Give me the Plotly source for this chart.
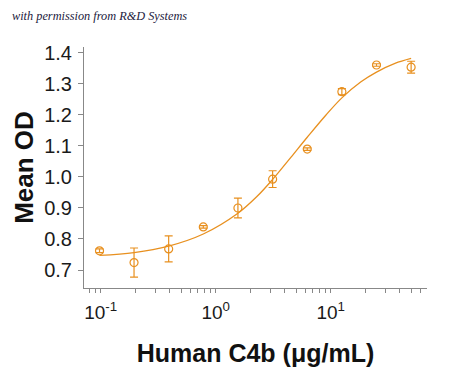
import plotly.graph_objects as go

# Measured points
conc = [0.0977, 0.195, 0.39, 0.78, 1.56, 3.125, 6.25, 12.5, 25, 50]
mean_od = [0.762, 0.724, 0.768, 0.839, 0.900, 0.993, 1.090, 1.275, 1.361, 1.354]
err = [0.006, 0.047, 0.042, 0.004, 0.032, 0.027, 0.004, 0.010, 0.004, 0.019]

# Fitted curve
fit_conc = [0.0977, 0.195, 0.39, 0.78, 1.56, 2.27, 3.125, 4.52, 6.25, 9.06, 12.5, 18.2, 25, 36.2, 50]
fit_od = [0.747, 0.756, 0.777, 0.816, 0.883, 0.936, 0.992, 1.064, 1.128, 1.199, 1.255, 1.306, 1.338, 1.366, 1.382]

y_ticks = [0.7, 0.8, 0.9, 1.0, 1.1, 1.2, 1.3, 1.4]
y_ticktext = ["0.7", "0.8", "0.9", "1.0", "1.1", "1.2", "1.3", "1.4"]

decades = [0.01, 0.1, 1, 10]
x_tickvals = []
x_ticktext = []
for d in decades:
    for m in range(1, 10):
        x_tickvals.append(d * m)
        if m == 1 and d in (0.1, 1, 10):
            exp = {0.1: "-1", 1: "0", 10: "1"}[d]
            x_ticktext.append("10<sup>" + exp + "</sup>")
        else:
            x_ticktext.append("")

orange = "#E8901F"

fig = go.Figure()
fig.add_trace(go.Scatter(
    x=fit_conc, y=fit_od, mode="lines",
    line=dict(color=orange, width=1.3, shape="spline", smoothing=1.0),
    showlegend=False, hoverinfo="skip"))
fig.add_trace(go.Scatter(
    x=conc, y=mean_od, mode="markers",
    marker=dict(symbol="circle-open", size=8, color=orange, line=dict(width=1.2, color=orange)),
    error_y=dict(type="data", array=err, visible=True, color=orange, thickness=1.2, width=4),
    showlegend=False))

fig.update_layout(
    width=450, height=370,
    margin=dict(l=76, r=31, t=39, b=90, autoexpand=False),
    paper_bgcolor="white", plot_bgcolor="white",
    font=dict(family="Liberation Sans, Arial, sans-serif", color="#1a1a1a"),
    annotations=[dict(
        text="<i>with permission from R&amp;D Systems</i>",
        xref="paper", yref="paper", x=-0.216, y=1.129, xanchor="left", yanchor="middle",
        showarrow=False,
        font=dict(family="Liberation Serif, serif", size=12.3, color="#1c2140"))],
)
fig.update_xaxes(
    type="log", range=[-1.145, 1.837], automargin=False,
    tickvals=x_tickvals, ticktext=x_ticktext,
    ticks="outside", ticklen=4, tickcolor="#888888", tickwidth=1,
    showline=True, linecolor="#888888", linewidth=1,
    showgrid=False, zeroline=False,
    tickfont=dict(size=19, color="#1a1a1a"),
    ticklabelstandoff=3,
    title=dict(text="<b>Human C4b (μg/mL)</b>", font=dict(size=25, color="#111111"), standoff=22),
)
fig.update_yaxes(
    range=[0.642, 1.419], automargin=False,
    tickvals=y_ticks, ticktext=y_ticktext,
    ticks="outside", ticklen=5, tickcolor="#888888", tickwidth=1,
    showline=True, linecolor="#888888", linewidth=1,
    showgrid=False, zeroline=False,
    tickfont=dict(size=20, color="#1a1a1a"),
    ticklabelstandoff=2,
    title=dict(text="<b>Mean OD</b>", font=dict(size=26, color="#111111"), standoff=3),
)

fig.write_html("out.html")
